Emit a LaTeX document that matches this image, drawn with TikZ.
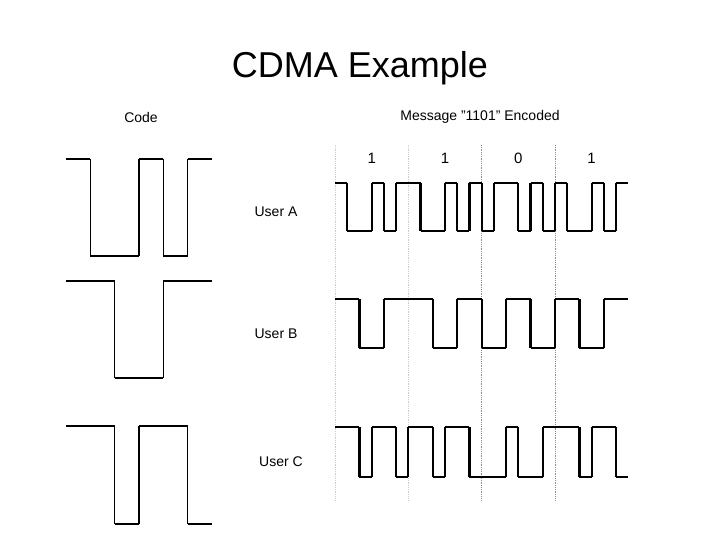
\documentclass[tikz,border=0pt]{standalone}
\usepackage{fontspec}
\setmainfont{Liberation Sans}
\newcommand\wavefm[6][]{%
 \foreach \v [count=\i from 0, remember=\v as \p (initially 9)] in {#6} {%
   \pgfmathsetmacro\xa{#2+\i*#3}\pgfmathsetmacro\xb{#2+(\i+1)*#3}%
   \pgfmathsetmacro\yy{\v==1?#4:#5}%
   \draw[wave,#1] (\xa,\yy) -- (\xb,\yy);
   \ifnum\i>0 \ifnum\v=\p\relax\else \draw[wave,#1] (\xa,#4) -- (\xa,#5);\fi\fi
 }}
\begin{document}
\begin{tikzpicture}[x=1pt,y=-1pt,
  wave/.style={line width=2.2pt,line cap=square,black},
  lbl/.style={font=\fontsize{14}{16}\selectfont,inner sep=0pt},
  div/.style={densely dotted,line width=0.8pt}]
\useasboundingbox (0,0) rectangle (720,540);
\node[font=\fontsize{36}{40}\selectfont] (title) at (360,68) {CDMA Example};
\node[lbl] (code) at (141,117) {Code};
\node[lbl] (msg) at (480,117) {Message "1101" Encoded};
\node[lbl] (ua) at (276,212) {User A};
\node[lbl] (ub) at (276,334) {User B};
\node[lbl] (uc) at (281,462) {User C};
% dividers
\draw[div,gray!40] (335,145) -- (335,500);
\draw[div,gray!40] (408.3,145) -- (408.3,500);
\draw[div,gray!90] (481.7,145) -- (481.7,500);
\draw[div,gray!90] (555,145) -- (555,500);
\foreach \b [count=\k from 0] in {1,1,0,1}
  \node[lbl,font=\fontsize{15}{16}\selectfont] (bit\k) at (371.7+\k*73.3,158) {\b};
% codes
\wavefm[line width=1.6pt]{66}{24.33}{159}{256}{1,0,0,1,0,1}
\wavefm[line width=1.6pt]{66}{24.33}{281}{378}{1,1,0,0,1,1}
\wavefm[line width=1.6pt]{66}{24.33}{426}{524}{1,1,0,1,1,0}
% encoded
\wavefm{335}{12.22}{183}{231}{1,0,0,1,0,1,1,0,0,1,0,1,0,1,1,0,1,0,1,0,0,1,0,1}
\wavefm{335}{12.22}{299}{348}{1,1,0,0,1,1,1,1,0,0,1,1,0,0,1,1,0,0,1,1,0,0,1,1}
\wavefm{335}{12.22}{427}{477}{1,1,0,1,1,0,1,1,0,1,1,0,0,0,1,0,0,1,1,1,0,1,1,0}
\end{tikzpicture}
\end{document}
